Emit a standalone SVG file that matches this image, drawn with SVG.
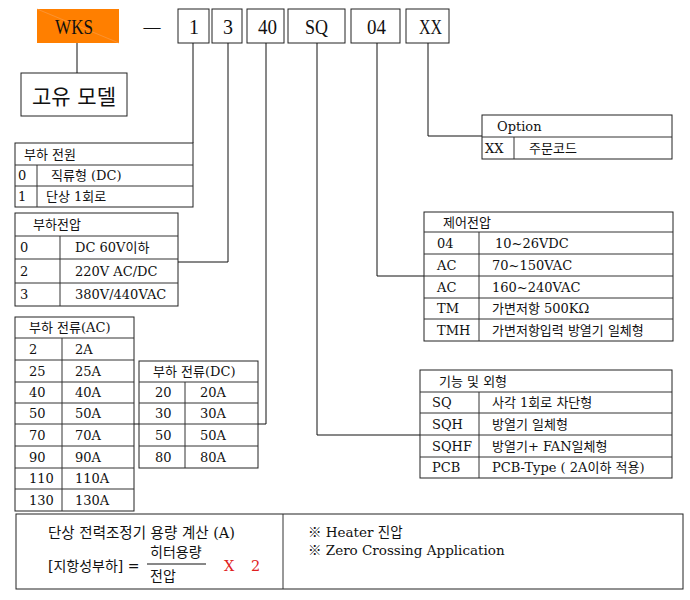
<svg xmlns="http://www.w3.org/2000/svg" width="690" height="600" viewBox="0 0 690 600">
<style>
text{font-family:"DejaVu Serif","Noto Sans CJK KR",serif;fill:#111}
.t{font-size:13px}
.m{font-size:14.5px}
.k{font-family:"Liberation Serif","Noto Sans CJK KR",serif;font-size:22px}
.b{fill:#fff;stroke:#222;stroke-width:1}
.l{stroke:#333;stroke-width:1;fill:none}
.c{stroke:#111;stroke-width:1;fill:none}
.red{fill:#e02020}
</style>
<rect width="690" height="600" fill="#fff"/>

<g id="code-wks">
<rect x="37" y="9" width="82" height="34" fill="#ff7f00"/>
<line x1="37" y1="9" x2="119" y2="43" stroke="#f8a050" stroke-width="0.6"/>
<text class="k" x="55" y="34" textLength="38" lengthAdjust="spacingAndGlyphs">WKS</text>
</g>
<text class="k" x="152" y="32" text-anchor="middle" style="font-size:17px">—</text>
<g id="code-1"><rect class="b" x="178" y="9" width="31" height="34"/><text class="k" x="189" y="34" textLength="10" lengthAdjust="spacingAndGlyphs">1</text></g>
<g id="code-3"><rect class="b" x="212" y="9" width="30" height="34"/><text class="k" x="223" y="34" textLength="10" lengthAdjust="spacingAndGlyphs">3</text></g>
<g id="code-40"><rect class="b" x="247" y="9" width="37" height="34"/><text class="k" x="258" y="34" textLength="19" lengthAdjust="spacingAndGlyphs">40</text></g>
<g id="code-sq"><rect class="b" x="288" y="9" width="57" height="34"/><text class="k" x="305" y="34" textLength="23" lengthAdjust="spacingAndGlyphs">SQ</text></g>
<g id="code-04"><rect class="b" x="351" y="9" width="49" height="34"/><text class="k" x="367" y="34" textLength="19" lengthAdjust="spacingAndGlyphs">04</text></g>
<g id="code-xx"><rect class="b" x="406" y="9" width="43" height="34"/><text class="k" x="419" y="34" textLength="23" lengthAdjust="spacingAndGlyphs">XX</text></g>

<g id="model">
<rect class="b" x="21" y="73" width="106" height="43"/>
<text x="74" y="104" text-anchor="middle" style="font-size:21px">고유 모델</text>
</g>

<g id="connectors">
<polyline class="c" points="77,43 77,73"/>
<polyline class="c" points="193,43 193,143"/>
<polyline class="c" points="228,43 228,262 178,262"/>
<polyline class="c" points="266,43 266,424 134,424"/>
<polyline class="c" points="317,43 317,435 420,435"/>
<polyline class="c" points="377,43 377,276 424,276"/>
<polyline class="c" points="428,43 428,136 482,136"/>
</g>

<g id="load-power">
<rect class="b" x="15" y="143" width="178" height="64"/>
<path class="l" d="M15 165H193M15 186H193M37 165V207"/>
<text class="t" x="24" y="159">부하 전원</text>
<text class="t" x="18" y="180">0</text><text class="t" x="51" y="180">직류형 (DC)</text>
<text class="t" x="18" y="201">1</text><text class="t" x="46" y="201">단상 1회로</text>
</g>

<g id="load-voltage">
<rect class="b" x="15" y="213" width="163" height="93"/>
<path class="l" d="M15 236H178M15 259H178M15 283H178M60 236V306"/>
<text class="t" x="33" y="229">부하전압</text>
<text class="t" x="20" y="252">0</text><text class="t" x="75" y="252">DC 60V이하</text>
<text class="t" x="20" y="276">2</text><text class="t" x="75" y="276">220V  AC/DC</text>
<text class="t" x="20" y="299">3</text><text class="t" x="75" y="299">380V/440VAC</text>
</g>

<g id="load-current-ac">
<rect class="b" x="15" y="317" width="119" height="194"/>
<path class="l" d="M15 338H134M15 360H134M15 382H134M15 403H134M15 424H134M15 446H134M15 468H134M15 489H134M62 338V511"/>
<text class="t" x="29" y="332">부하 전류(AC)</text>
<text class="t" x="29" y="354">2</text><text class="t" x="75" y="354">2A</text>
<text class="t" x="29" y="376">25</text><text class="t" x="75" y="376">25A</text>
<text class="t" x="29" y="397">40</text><text class="t" x="75" y="397">40A</text>
<text class="t" x="29" y="418">50</text><text class="t" x="75" y="418">50A</text>
<text class="t" x="29" y="440">70</text><text class="t" x="75" y="440">70A</text>
<text class="t" x="29" y="462">90</text><text class="t" x="75" y="462">90A</text>
<text class="t" x="29" y="483">110</text><text class="t" x="75" y="483">110A</text>
<text class="t" x="29" y="505">130</text><text class="t" x="75" y="505">130A</text>
</g>

<g id="load-current-dc">
<rect class="b" x="139" y="361" width="119" height="107"/>
<path class="l" d="M139 382H258M139 403H258M139 424H258M139 446H258M185 382V468"/>
<text class="t" x="153" y="376">부하 전류(DC)</text>
<text class="t" x="155" y="397">20</text><text class="t" x="200" y="397">20A</text>
<text class="t" x="155" y="418">30</text><text class="t" x="200" y="418">30A</text>
<text class="t" x="155" y="440">50</text><text class="t" x="200" y="440">50A</text>
<text class="t" x="155" y="462">80</text><text class="t" x="200" y="462">80A</text>
</g>

<g id="option">
<rect class="b" x="482" y="115" width="190" height="44"/>
<path class="l" d="M482 137H672M514 137V159"/>
<text class="t" x="497" y="131">Option</text>
<text class="t" x="485" y="153">XX</text><text class="t" x="529" y="153">주문코드</text>
</g>

<g id="control-voltage">
<rect class="b" x="424" y="212" width="249" height="129"/>
<path class="l" d="M424 232H673M424 254H673M424 276H673M424 298H673M424 319H673M479 232V341"/>
<text class="t" x="443" y="227">제어전압</text>
<text class="t" x="437" y="248">04</text><text class="t" x="495" y="248">10~26VDC</text>
<text class="t" x="437" y="270">AC</text><text class="t" x="492" y="270">70~150VAC</text>
<text class="t" x="437" y="292">AC</text><text class="t" x="492" y="292">160~240VAC</text>
<text class="t" x="437" y="313">TM</text><text class="t" x="492" y="313">가변저항 500KΩ</text>
<text class="t" x="437" y="335">TMH</text><text class="t" x="492" y="335">가변저항입력 방열기 일체형</text>
</g>

<g id="function-shape">
<rect class="b" x="420" y="370" width="252" height="108"/>
<path class="l" d="M420 392H672M420 413H672M420 435H672M420 457H672M479 392V478"/>
<text class="t" x="439" y="386">기능 및 외형</text>
<text class="t" x="432" y="407">SQ</text><text class="t" x="492" y="407">사각 1회로 차단형</text>
<text class="t" x="432" y="429">SQH</text><text class="t" x="492" y="429">방열기 일체형</text>
<text class="t" x="432" y="451">SQHF</text><text class="t" x="492" y="451">방열기+ FAN일체형</text>
<text class="t" x="432" y="472">PCB</text><text class="t" x="492" y="472">PCB-Type ( 2A이하 적용)</text>
</g>

<g id="calculation">
<rect class="b" x="16" y="514" width="667" height="75" stroke="#555"/>
<line class="l" x1="283" y1="514" x2="283" y2="589"/>
<text class="m" x="48" y="538">단상 전력조정기 용량 계산 (A)</text>
<text class="t" x="48" y="571" style="font-size:14px">[지항성부하] =</text>
<text class="t" x="150" y="557" style="font-size:14px">히터용량</text>
<line class="c" x1="147" y1="564" x2="206" y2="564"/>
<text class="t" x="150" y="581" style="font-size:14px">전압</text>
<text class="m red" x="224" y="571">X</text>
<text class="m red" x="251" y="571">2</text>
<text class="t" x="308" y="537" style="font-size:13.5px">※ Heater  진압</text>
<text class="t" x="308" y="555" style="font-size:13.5px">※ Zero Crossing Application</text>
</g>
</svg>
